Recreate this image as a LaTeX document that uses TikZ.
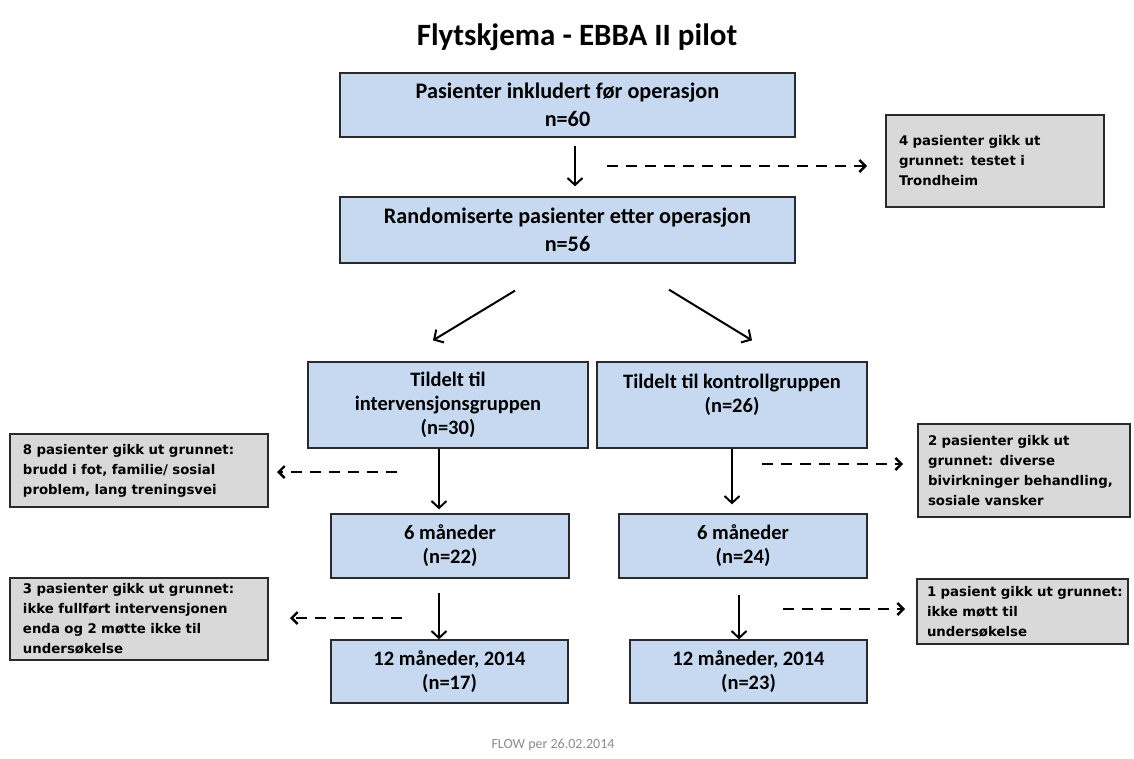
\documentclass[tikz,border=0pt]{standalone}
\usepackage{fontspec}
\setmainfont{Carlito}
\newfontfamily\greyfont{DejaVu Sans}
\usetikzlibrary{arrows.meta}
\definecolor{boxblue}{HTML}{C6D9F1}
\definecolor{boxgrey}{HTML}{D9D9D9}
\definecolor{edgecol}{HTML}{2A2A2A}
\definecolor{footgrey}{HTML}{8C8C8C}
\begin{document}
\begin{tikzpicture}[x=1pt,y=-1pt,
  mainbox/.style={draw=edgecol, line width=1.3pt, fill=boxblue, inner sep=0pt,
    align=center, font=\bfseries\fontsize{20.5}{24}\selectfont},
  topbox/.style={mainbox, font=\bfseries\fontsize{22.2}{28}\selectfont},
  greybox/.style={draw=edgecol, line width=1.3pt, fill=boxgrey, inner ysep=0pt,
    inner xsep=13pt, align=left, font=\greyfont\bfseries\fontsize{13.3}{20}\selectfont},
  arr/.style={draw=black, line width=2pt, -{Straight Barb[length=7pt,width=15pt]}},
  dasharr/.style={draw=black, line width=2.4pt, dash pattern=on 11pt off 8pt,
    -{Straight Barb[length=6pt,width=12pt]}}
]
\useasboundingbox[fill=white] (0,0) rectangle (1134,758);

% title
\node[anchor=base, font=\bfseries\fontsize{31}{34}\selectfont] (title) at (577,45) {Flytskjema - EBBA II pilot};

% main boxes
\node[topbox, minimum width=455pt, minimum height=64pt] (b1) at (567.5,105) {Pasienter inkludert før operasjon\\n=60};
\node[topbox, minimum width=455pt, minimum height=66pt] (b2) at (567.5,230) {Randomiserte pasienter etter operasjon\\n=56};
\node[mainbox, minimum width=280pt, minimum height=86pt] (b3) at (448,405) {Tildelt til\\intervensjonsgruppen\\(n=30)};
\node[mainbox, minimum width=270pt, minimum height=86pt] (b4) at (732,405) {Tildelt til kontrollgruppen\\(n=26)\\\mbox{}};
\node[mainbox, minimum width=238pt, minimum height=64pt] (b5) at (450,546) {6 måneder\\(n=22)};
\node[mainbox, minimum width=248pt, minimum height=64pt] (b6) at (743,546) {6 måneder\\(n=24)};
\node[mainbox, minimum width=237pt, minimum height=63pt] (b7) at (449.5,671.5) {12 måneder, 2014\\(n=17)};
\node[mainbox, minimum width=237pt, minimum height=63pt] (b8) at (748.5,671.5) {12 måneder, 2014\\(n=23)};

% grey boxes
\node[greybox, text width=192pt, minimum height=92pt] (g1) at (995,161)
  {\mbox{4 pasienter gikk ut}\\\mbox{grunnet: testet i}\\\mbox{Trondheim}};
\node[greybox, text width=232pt, minimum height=73pt] (g2) at (139,470.5)
  {\mbox{8 pasienter gikk ut grunnet:}\\\mbox{brudd i fot, familie/ sosial}\\\mbox{problem, lang treningsvei}};
\node[greybox, inner xsep=10pt, text width=192pt, minimum height=93pt] (g3) at (1024,470.5)
  {\mbox{2 pasienter gikk ut}\\\mbox{grunnet: diverse}\\\mbox{bivirkninger behandling,}\\\mbox{sosiale vansker}};
\node[greybox, text width=232pt, minimum height=82pt] (g4) at (139,619)
  {\mbox{3 pasienter gikk ut grunnet:}\\\mbox{ikke fullført intervensjonen}\\\mbox{enda og 2 møtte ikke til}\\\mbox{undersøkelse}};
\node[greybox, inner xsep=10pt, text width=191pt, minimum height=65pt] (g5) at (1022.5,611.5)
  {\mbox{1 pasient gikk ut grunnet:}\\\mbox{ikke møtt til}\\\mbox{undersøkelse}};

% footer
\node[font=\fontsize{14}{16}\selectfont, text=footgrey] (foot) at (553,745) {FLOW per 26.02.2014};

% solid arrows
\draw[arr] ([xshift=7.5pt,yshift=-8pt]b1.south) -- ([xshift=7.5pt,yshift=10pt]b2.north);
\draw[arr] ([xshift=-52.5pt,yshift=-27pt]b2.south) -- ([xshift=-15pt,yshift=21pt]b3.north);
\draw[arr] ([xshift=101.5pt,yshift=-26pt]b2.south) -- ([xshift=20pt,yshift=21pt]b4.north);
\draw[arr] ([xshift=-9pt]b3.south) -- ([xshift=-11pt,yshift=4pt]b5.north);
\draw[arr] ([xshift=-11pt,yshift=-14pt]b5.south) -- ([xshift=-10.5pt]b7.north);
\draw[arr] (b4.south) -- ([xshift=-11pt,yshift=9pt]b6.north);
\draw[arr] ([xshift=-4pt,yshift=-16pt]b6.south) -- ([xshift=-9.5pt]b8.north);

% dashed arrows (free ends)
\coordinate (d1s) at (607,166);  \coordinate (d1e) at (867,166);
\coordinate (d2s) at (397,472);  \coordinate (d2e) at (277,472);
\coordinate (d3s) at (762,464);  \coordinate (d3e) at (903,464);
\coordinate (d4s) at (402,618);  \coordinate (d4e) at (290,618);
\coordinate (d5s) at (783,609);  \coordinate (d5e) at (905,609);
\draw[dasharr] (d1s) -- (d1e);
\draw[dasharr] (d2s) -- (d2e);
\draw[dasharr] (d3s) -- (d3e);
\draw[dasharr] (d4s) -- (d4e);
\draw[dasharr] (d5s) -- (d5e);
\end{tikzpicture}
\end{document}
